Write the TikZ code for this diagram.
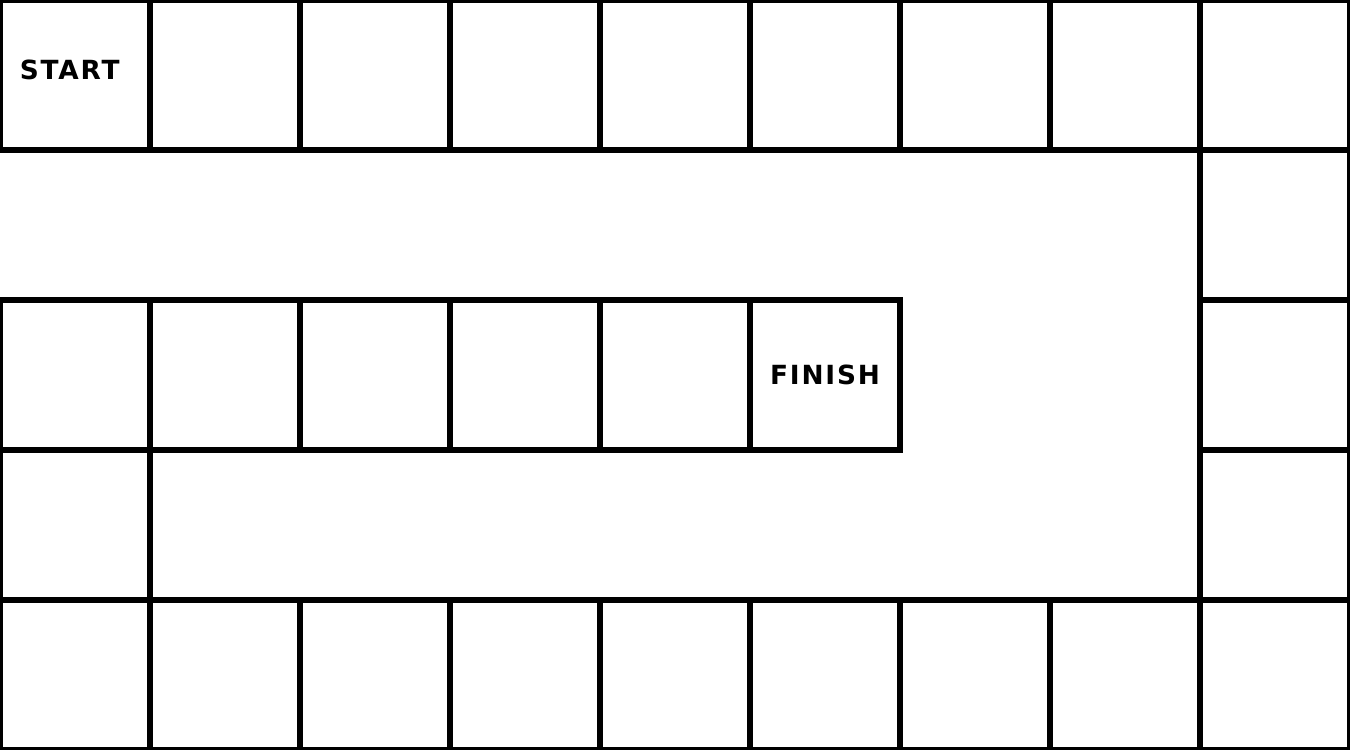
\documentclass[tikz,border=0pt]{standalone}
\usepackage{fontspec}
\newfontfamily\boardfont[LetterSpace=7]{DejaVu Sans}
\usepackage{tikz}

\begin{document}
\begin{tikzpicture}[x=2cm,y=-2cm,
    cell/.style={draw, line width=2pt, minimum size=2cm, inner sep=0pt},
    boardtext/.style={font=\boardfont\bfseries\fontsize{10}{11}\selectfont}]
  \useasboundingbox (0,0) rectangle (9,5);
  % top row and bottom row
  \foreach \c in {0,...,8} {
    \node[cell] (c\c-0) at (\c+0.5,0.5) {};
    \node[cell] (c\c-4) at (\c+0.5,4.5) {};
  }
  % right column
  \foreach \r in {1,2,3}
    \node[cell] (c8-\r) at (8.5,\r+0.5) {};
  % middle row
  \foreach \c in {0,...,5}
    \node[cell] (c\c-2) at (\c+0.5,2.5) {};
  \node[cell] (c0-3) at (0.5,3.5) {};
  % labels
  \node[boardtext] (start) at ([xshift=-2pt,yshift=2pt]c0-0) {START};
  \node[boardtext] (finish) at (c5-2) {FINISH};
\end{tikzpicture}
\end{document}
